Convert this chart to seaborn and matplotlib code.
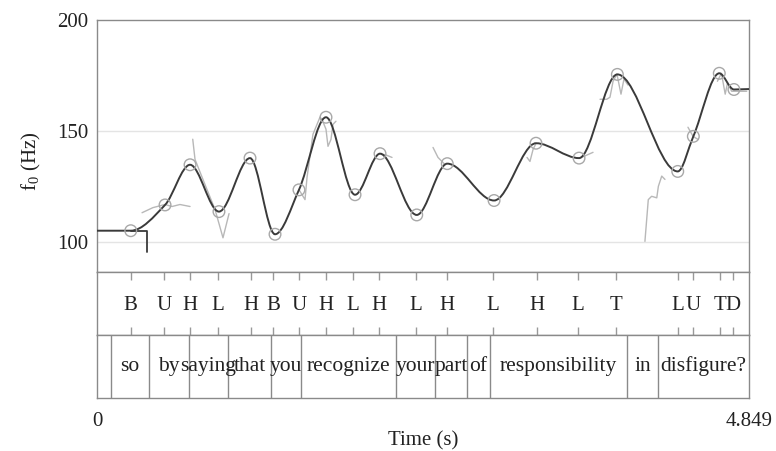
import numpy as np
import pandas as pd
import matplotlib
matplotlib.use("Agg")
import matplotlib.pyplot as plt
from matplotlib.path import Path
from matplotlib.patches import PathPatch
import seaborn as sns

# ---------------- data ----------------
T_END = 4.849
# pitch targets (circles) : time (s), f0 (Hz)
target_t = [0.251, 0.506, 0.692, 0.907, 1.138, 1.324, 1.502, 1.703, 1.919, 2.105,
            2.378, 2.605, 2.953, 3.265, 3.585, 3.870, 4.319, 4.435, 4.628, 4.737]
target_f = [105.1, 116.7, 134.8, 113.7, 137.8, 103.5, 123.5, 156.2, 121.3, 139.8,
            112.2, 135.3, 118.7, 144.5, 137.8, 175.5, 131.8, 147.6, 176.0, 168.7]
# stylised curve end levels
curve_start_f = 105.1
curve_end_f = 168.9

# dark flat piece at the start
flat_t = [0.251, 0.372, 0.372]
flat_f = [105.1, 105.1, 95.6]

# raw f0 track pieces (visible parts)
raw_segments = {
    "r1": ([0.335, 0.416, 0.506, 0.558, 0.617, 0.692], [113.2, 115.5, 116.9, 116.0, 116.9, 116.0]),
    "r2": ([0.712, 0.729, 0.803, 0.878, 0.937, 0.982], [146.3, 137.2, 125.9, 114.6, 101.9, 112.8]),
    "r3": ([1.502, 1.547, 1.562, 1.606, 1.658, 1.673, 1.703, 1.718, 1.740, 1.755, 1.777],
           [123.6, 119.1, 129.1, 148.5, 156.2, 155.3, 150.8, 143.1, 146.2, 153.0, 154.4]),
    "r4": ([2.105, 2.150, 2.194], [139.8, 139.2, 138.1]),
    "r5": ([2.499, 2.536, 2.588], [142.6, 138.1, 134.9]),
    "r6": ([3.198, 3.220, 3.243, 3.265], [138.1, 136.3, 141.7, 144.4]),
    "r7": ([3.585, 3.637, 3.689], [137.7, 139.0, 140.4]),
    "r8": ([3.741, 3.791, 3.815, 3.838, 3.867, 3.897, 3.919, 3.949],
           [164.3, 164.3, 165.2, 172.4, 175.6, 166.6, 173.4, 170.7]),
    "r9": ([4.075, 4.100, 4.125, 4.163, 4.175, 4.200, 4.224], [100.3, 119.1, 120.6, 119.9, 125.1, 129.7, 128.2]),
    "r10": ([4.395, 4.433, 4.470], [151.7, 147.6, 146.2]),
    "r11": ([4.614, 4.644, 4.672, 4.689, 4.720, 4.832], [172.4, 176.0, 166.6, 171.6, 167.9, 167.9]),
}

# tone tier (points)
tone_t = [0.251, 0.498, 0.692, 0.900, 1.145, 1.309, 1.502, 1.701, 1.904, 2.097,
          2.372, 2.603, 2.945, 3.272, 3.577, 3.860, 4.321, 4.433, 4.633, 4.730]
tone_labels = ["B", "U", "H", "L", "H", "B", "U", "H", "L", "H",
               "L", "H", "L", "H", "L", "T", "L", "U", "T", "D"]

# word tier (intervals)
word_bounds = [0.102, 0.387, 0.684, 0.974, 1.294, 1.517, 2.224, 2.514, 2.752, 2.923, 3.942, 4.172]
word_labels = ["", "so", "by", "saying", "that", "you", "recognize", "your",
               "part", "of", "responsibility", "in", "disfigure?"]

y_ticks = [100, 150, 200]
y_lim = (86.5, 200)

# ---------------- style ----------------
sns.set_theme(style="white")
plt.rcParams["font.family"] = ["Liberation Serif", "DejaVu Serif"]
plt.rcParams["mathtext.default"] = "regular"
FS = 15
FS_W = 15.5
TXT = "#222222"
FRAME = "#8a8a8a"

fig = plt.figure(figsize=(7.76, 4.51), dpi=100)
L, W = 97 / 776, 652 / 776
ax_p = fig.add_axes([L, 1 - 272 / 451, W, 252 / 451])
ax_t = fig.add_axes([L, 1 - 335 / 451, W, 63 / 451])
ax_w = fig.add_axes([L, 1 - 398 / 451, W, 63 / 451])

for ax in (ax_p, ax_t, ax_w):
    ax.set_xlim(0, T_END)
    ax.set_facecolor("white")
    for sp in ax.spines.values():
        sp.set_visible(True)
        sp.set_color(FRAME)
        sp.set_linewidth(1.0)
    ax.tick_params(colors=FRAME, labelcolor=TXT, labelsize=FS)

# ---------------- pitch panel ----------------
ax_p.set_ylim(*y_lim)
for v in y_ticks[:-1]:
    ax_p.axhline(v, color="#e4e4e4", lw=1.0, zorder=0)

# stylised curve: cubic Hermite (monotone) drawn as Bezier path
cx = np.array([0.0] + target_t + [T_END])
cy = np.array([curve_start_f] + target_f + [curve_end_f])
h = np.diff(cx)
d = np.diff(cy) / h
m = np.zeros_like(cy)
for k in range(1, len(cx) - 1):
    if d[k - 1] * d[k] > 0:
        w1 = 2 * h[k] + h[k - 1]
        w2 = h[k] + 2 * h[k - 1]
        m[k] = (w1 + w2) / (w1 / d[k - 1] + w2 / d[k])
verts = [(cx[0], cy[0])]
codes = [Path.MOVETO]
for k in range(len(cx) - 1):
    verts += [(cx[k] + h[k] / 3, cy[k] + m[k] * h[k] / 3),
              (cx[k + 1] - h[k] / 3, cy[k + 1] - m[k + 1] * h[k] / 3),
              (cx[k + 1], cy[k + 1])]
    codes += [Path.CURVE4] * 3

# raw track
raw_rows = []
for name, (ts, fs) in raw_segments.items():
    for i, (tt, ff) in enumerate(zip(ts, fs)):
        raw_rows.append({"seg": name, "order": i, "t": tt, "f0": ff})
raw_df = pd.DataFrame(raw_rows)
sns.lineplot(data=raw_df, x="t", y="f0", units="seg", estimator=None, sort=False,
             color="#b8b8b8", lw=1.0, ax=ax_p, zorder=2)

flat_df = pd.DataFrame({"t": flat_t, "f0": flat_f})
sns.lineplot(data=flat_df, x="t", y="f0", estimator=None, sort=False,
             color="#3a3a3a", lw=1.3, ax=ax_p, zorder=3)

ax_p.add_patch(PathPatch(Path(verts, codes), fill=False, edgecolor="#3a3a3a", lw=1.4, zorder=3))

tgt_df = pd.DataFrame({"t": target_t, "f0": target_f})
sns.scatterplot(data=tgt_df, x="t", y="f0", s=70, facecolor="none",
                edgecolor="#a8a8a8", linewidth=1.0, ax=ax_p, zorder=4)

ax_p.set_yticks(y_ticks)
ax_p.set_xticks([])
ax_p.tick_params(axis="y", direction="out", length=4, width=1, pad=2)
ax_p.set_xlabel("")
ax_p.set_ylabel(r"$f_0$ (Hz)", fontsize=FS, color=TXT)
ax_p.yaxis.set_label_coords(-0.083, 0.44)

# ---------------- tone tier ----------------
ax_t.set_ylim(0, 1)
ax_t.set_xticks([])
ax_t.set_yticks([])
ax_t.vlines(tone_t, 0.87, 1.0, color="#999999", lw=1.0)
ax_t.vlines(tone_t, 0.0, 0.13, color="#999999", lw=1.0)
for tt, lab in zip(tone_t, tone_labels):
    ax_t.text(tt, 0.47, lab, ha="center", va="center", fontsize=FS, color=TXT)

# ---------------- word tier ----------------
ax_w.set_ylim(0, 1)
ax_w.set_yticks([])
ax_w.vlines(word_bounds, 0, 1, color=FRAME, lw=1.0)
edges = [0.0] + word_bounds + [T_END]
for a, b, lab in zip(edges[:-1], edges[1:], word_labels):
    if lab:
        ax_w.text((a + b) / 2, 0.5, lab, ha="center", va="center", fontsize=FS_W, color=TXT)
ax_w.set_xticks([0, T_END])
ax_w.set_xticklabels(["0", "4.849"])
ax_w.tick_params(axis="x", direction="out", length=4, width=1, pad=6)
ax_w.set_xlabel("Time (s)", fontsize=FS, color=TXT)
ax_w.xaxis.set_label_coords(0.5, -0.52)
ax_w.xaxis.label.set_va("top")

fig.savefig("out.png", dpi=100, facecolor="white")
